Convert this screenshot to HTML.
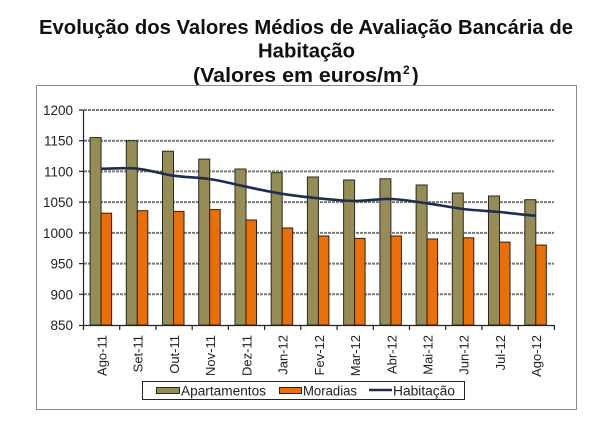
<!DOCTYPE html>
<html>
<head>
<meta charset="utf-8">
<style>
  html,body{margin:0;padding:0;background:#fff;}
  svg{display:block;}
  text{font-family:"Liberation Sans", "DejaVu Sans", sans-serif;}
</style>
</head>
<body>
<svg width="610" height="427" viewBox="0 0 610 427" xmlns="http://www.w3.org/2000/svg">
  <rect x="0" y="0" width="610" height="427" fill="#ffffff"/>

  <!-- Title -->
  <g font-weight="bold" fill="#111" font-size="20">
    <text x="39" y="34" textLength="534" lengthAdjust="spacingAndGlyphs">Evolução dos Valores Médios de Avaliação Bancária de</text>
    <text x="258" y="57.5" textLength="97" lengthAdjust="spacingAndGlyphs">Habitação</text>
    <text x="193" y="82" textLength="209" lengthAdjust="spacingAndGlyphs">(Valores em euros/m</text>
    <text x="403" y="74" font-size="12">2</text>
    <text x="412" y="82">)</text>
  </g>

  <!-- Chart box -->
  <rect x="36.5" y="85.5" width="540" height="324" fill="#fff" stroke="#8c8c8c" stroke-width="1"/>

  <!-- Gridlines -->
  <g stroke="#7a7a7a" stroke-width="2" stroke-dasharray="3,1">
    <line x1="84" y1="110" x2="554" y2="110"/>
    <line x1="84" y1="140.7" x2="554" y2="140.7"/>
    <line x1="84" y1="171.4" x2="554" y2="171.4"/>
    <line x1="84" y1="202.1" x2="554" y2="202.1"/>
    <line x1="84" y1="232.9" x2="554" y2="232.9"/>
    <line x1="84" y1="263.6" x2="554" y2="263.6"/>
    <line x1="84" y1="294.3" x2="554" y2="294.3"/>
  </g>

  <!-- Bars Apartamentos -->
  <g fill="#968c58" stroke="#2b2a1c" stroke-width="1">
    <rect x="90.1" y="137.6" width="11" height="187.4"/>
    <rect x="126.3" y="140.7" width="11" height="184.3"/>
    <rect x="162.5" y="151.2" width="11" height="173.8"/>
    <rect x="198.7" y="159.1" width="11" height="165.9"/>
    <rect x="235" y="169" width="11" height="156"/>
    <rect x="271.2" y="172.7" width="11" height="152.3"/>
    <rect x="307.4" y="177" width="11" height="148"/>
    <rect x="343.6" y="180" width="11" height="145"/>
    <rect x="379.9" y="178.8" width="11" height="146.2"/>
    <rect x="416.1" y="185" width="11" height="140"/>
    <rect x="452.3" y="193" width="11" height="132"/>
    <rect x="488.5" y="196" width="11" height="129"/>
    <rect x="524.8" y="199.7" width="11" height="125.3"/>
  </g>

  <!-- Bars Moradias -->
  <g fill="#e8700c" stroke="#3a1c05" stroke-width="1">
    <rect x="101.1" y="213.2" width="10.5" height="111.8"/>
    <rect x="137.3" y="210.7" width="10.5" height="114.3"/>
    <rect x="173.5" y="211.4" width="10.5" height="113.6"/>
    <rect x="209.7" y="209.6" width="10.5" height="115.4"/>
    <rect x="246" y="220" width="10.5" height="105"/>
    <rect x="282.2" y="228" width="10.5" height="97"/>
    <rect x="318.4" y="236" width="10.5" height="89"/>
    <rect x="354.6" y="238.4" width="10.5" height="86.6"/>
    <rect x="390.9" y="236" width="10.5" height="89"/>
    <rect x="427.1" y="239" width="10.5" height="86"/>
    <rect x="463.3" y="237.8" width="10.5" height="87.2"/>
    <rect x="499.5" y="242.1" width="10.5" height="82.9"/>
    <rect x="535.8" y="245.1" width="10.5" height="79.9"/>
  </g>

  <!-- Habitação line -->
  <path d="M101.1,168.7 C113.2,168.7 125.2,167.5 137.3,168.7 C149.4,169.9 161.4,174 173.5,175.7 C185.6,177.4 197.6,177.2 209.7,179 C221.8,180.8 233.9,184.2 246,186.7 C258.1,189.2 270.1,191.9 282.2,193.8 C294.3,195.7 306.3,197.1 318.4,198.3 C330.5,199.5 342.5,200.9 354.6,201 C366.7,201.1 378.8,198.6 390.9,199 C403,199.4 415,201.6 427.1,203.3 C439.2,205 451.2,207.5 463.3,209 C475.4,210.5 487.4,210.9 499.5,212 C511.6,213.1 523.7,215.1 535.8,215.7"
        fill="none" stroke="#1f2d4e" stroke-width="2.6" stroke-linejoin="round" stroke-linecap="butt"/>

  <!-- Axes -->
  <g stroke="#222" stroke-width="1.2">
    <line x1="83.5" y1="110" x2="83.5" y2="325.5"/>
    <line x1="83" y1="325.5" x2="554.5" y2="325.5"/>
    <line x1="79" y1="110" x2="83.5" y2="110"/>
    <line x1="79" y1="140.7" x2="83.5" y2="140.7"/>
    <line x1="79" y1="171.4" x2="83.5" y2="171.4"/>
    <line x1="79" y1="202.1" x2="83.5" y2="202.1"/>
    <line x1="79" y1="232.9" x2="83.5" y2="232.9"/>
    <line x1="79" y1="263.6" x2="83.5" y2="263.6"/>
    <line x1="79" y1="294.3" x2="83.5" y2="294.3"/>
    <line x1="79" y1="325.5" x2="83.5" y2="325.5"/>
    <line x1="83.5" y1="325" x2="83.5" y2="330"/>
    <line x1="119.7" y1="325" x2="119.7" y2="330"/>
    <line x1="155.9" y1="325" x2="155.9" y2="330"/>
    <line x1="192.2" y1="325" x2="192.2" y2="330"/>
    <line x1="228.4" y1="325" x2="228.4" y2="330"/>
    <line x1="264.6" y1="325" x2="264.6" y2="330"/>
    <line x1="300.8" y1="325" x2="300.8" y2="330"/>
    <line x1="337.1" y1="325" x2="337.1" y2="330"/>
    <line x1="373.3" y1="325" x2="373.3" y2="330"/>
    <line x1="409.5" y1="325" x2="409.5" y2="330"/>
    <line x1="445.7" y1="325" x2="445.7" y2="330"/>
    <line x1="481.9" y1="325" x2="481.9" y2="330"/>
    <line x1="518.2" y1="325" x2="518.2" y2="330"/>
    <line x1="554.4" y1="325" x2="554.4" y2="330"/>
  </g>

  <!-- Y labels -->
  <g font-size="13.5" fill="#222" text-anchor="end">
    <text x="73" y="115">1200</text>
    <text x="73" y="145.7">1150</text>
    <text x="73" y="176.4">1100</text>
    <text x="73" y="207.1">1050</text>
    <text x="73" y="237.9">1000</text>
    <text x="73" y="268.6">950</text>
    <text x="73" y="299.3">900</text>
    <text x="73" y="330">850</text>
  </g>

  <!-- X labels -->
  <g font-size="13" fill="#222" text-anchor="end">
    <text transform="translate(106.5,335) rotate(-90)">Ago-11</text>
    <text transform="translate(142.7,335) rotate(-90)">Set-11</text>
    <text transform="translate(178.9,335) rotate(-90)">Out-11</text>
    <text transform="translate(215.1,335) rotate(-90)">Nov-11</text>
    <text transform="translate(251.4,335) rotate(-90)">Dez-11</text>
    <text transform="translate(287.6,335) rotate(-90)">Jan-12</text>
    <text transform="translate(323.8,335) rotate(-90)">Fev-12</text>
    <text transform="translate(360,335) rotate(-90)">Mar-12</text>
    <text transform="translate(396.3,335) rotate(-90)">Abr-12</text>
    <text transform="translate(432.5,335) rotate(-90)">Mai-12</text>
    <text transform="translate(468.7,335) rotate(-90)">Jun-12</text>
    <text transform="translate(504.9,335) rotate(-90)">Jul-12</text>
    <text transform="translate(541.2,335) rotate(-90)">Ago-12</text>
  </g>

  <!-- Legend -->
  <rect x="142.5" y="381.5" width="322" height="18" fill="#fff" stroke="#222" stroke-width="1"/>
  <rect x="156.5" y="387.5" width="23" height="6" fill="#968c58" stroke="#2b2a1c" stroke-width="1"/>
  <text x="181" y="395.5" font-size="13.5" fill="#222" textLength="85" lengthAdjust="spacingAndGlyphs">Apartamentos</text>
  <rect x="279.5" y="387.5" width="22" height="6" fill="#e8700c" stroke="#3a1c05" stroke-width="1"/>
  <text x="303" y="395.5" font-size="13.5" fill="#222" textLength="54" lengthAdjust="spacingAndGlyphs">Moradias</text>
  <line x1="369" y1="390" x2="392" y2="390" stroke="#1f2d4e" stroke-width="2.6"/>
  <text x="393" y="395.5" font-size="13.5" fill="#222" textLength="62" lengthAdjust="spacingAndGlyphs">Habitação</text>
</svg>
</body>
</html>
